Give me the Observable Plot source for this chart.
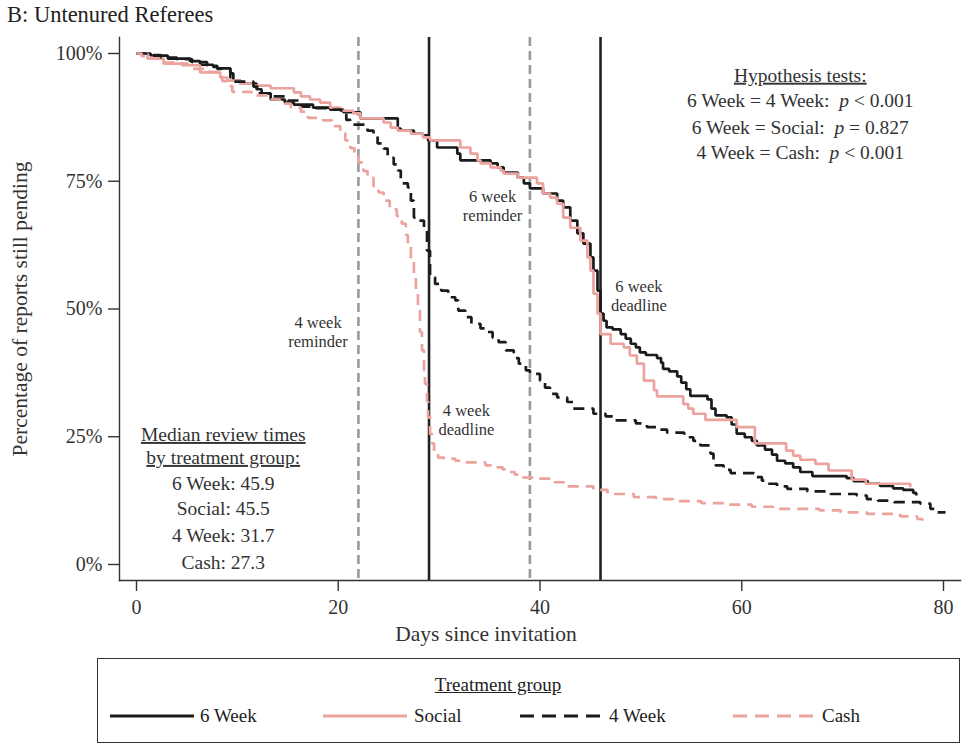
<!DOCTYPE html>
<html>
<head>
<meta charset="utf-8">
<script src="https://cdn.jsdelivr.net/npm/d3@7"></script>
<script src="https://cdn.jsdelivr.net/npm/@observablehq/plot@0.6"></script>
<style>
  body { margin: 0; background: #fff; }
  #root { position: relative; width: 963px; height: 744px; font-family: "Liberation Serif", serif; color: #333; overflow: hidden; }
  #chart { position: absolute; left: 0; top: 0; }
  #title { position: absolute; left: 7px; top: 4px; font-size: 22.5px; line-height: 22px; color: #222; }
  #legend { position: absolute; left: 97px; top: 658px; width: 863px; height: 85px; box-sizing: border-box; border: 1.5px solid #333; }
  #legend .lab { position: absolute; font-size: 19px; line-height: 20px; color: #222; white-space: nowrap; }
  #legend svg { position: absolute; }
</style>
</head>
<body>
<div id="root">
  <div id="chart"></div>
  <div id="title">B: Untenured Referees</div>
  <div id="legend"></div>
</div>
<script>
// ---------------- data ----------------
const groups = ["6 Week", "Social", "4 Week", "Cash"];

// [day, share of reports still pending (%)] — Kaplan-Meier style steps
const sixWeek = [
  [0,100],[1.4,99.6],[3.1,99.0],[5.3,98.5],[6.3,97.8],[7.6,97.4],[8.0,97.1],[9.3,96.1],[9.6,94.7],[10.3,94.1],
  [11.9,93.0],[12.4,92.2],[13.3,91.0],[14.7,90.4],[15.6,90.0],[17.5,89.4],[19.2,89.0],[20.5,88.5],[22.2,87.3],
  [25.9,85.3],[26.2,84.9],[27.5,84.3],[28.4,84.0],[28.9,83.0],[29.8,81.6],[31.8,80.4],[32.1,79.1],[35.1,78.5],
  [35.8,77.7],[36.4,76.7],[37.8,75.7],[38.4,74.6],[39.0,73.6],[40.3,72.6],[41.7,71.2],[42.3,69.9],[43.0,67.3],
  [43.7,64.8],[44.3,62.8],[45.0,60.1],[45.3,57.5],[45.7,53.6],[46.0,49.1],[46.3,47.7],[46.6,46.4],[47.2,46.0],
  [48.0,45.1],[48.5,44.2],[49.0,43.2],[49.5,42.5],[49.9,41.5],[50.5,41.0],[51.6,40.4],[52.0,39.5],[52.2,38.3],
  [52.8,37.8],[53.6,36.8],[54.0,35.6],[54.5,34.3],[54.9,33.0],[56.6,32.3],[57.0,30.5],[57.4,29.2],[58.5,28.8],
  [59.0,27.4],[59.5,25.6],[60.3,24.9],[61.0,24.2],[61.5,23.3],[62.3,22.5],[63.0,21.5],[63.5,20.3],[64.3,19.8],
  [65.1,19.0],[65.8,18.1],[67.0,17.3],[70.4,16.9],[71.1,16.3],[72.5,15.8],[73.7,15.4],[75.0,14.9],[76.0,14.6],
  [77.0,14.0],[77.3,13.5]
];
const social = [
  [0,100],[1.1,99.0],[2.7,98.0],[5.1,97.7],[6.3,96.3],[8.3,95.3],[9.0,94.7],[10.3,94.1],[11.6,93.7],[13.3,93.2],
  [15.6,92.4],[16.3,91.6],[17.2,91.0],[18.2,90.4],[19.2,89.4],[20.2,88.8],[21.5,88.3],[22.2,87.3],[24.5,86.5],
  [25.2,85.5],[25.9,84.9],[27.2,84.3],[28.4,83.6],[29.1,83.0],[32.1,81.6],[33.1,80.4],[33.8,79.1],[34.1,78.5],
  [35.1,77.7],[36.1,77.1],[36.4,76.5],[37.8,75.7],[39.7,74.6],[40.3,72.6],[41.0,71.8],[41.7,70.6],[42.3,67.9],
  [43.0,65.9],[44.0,63.4],[44.7,60.1],[45.0,57.5],[45.3,53.0],[45.7,49.1],[46.0,45.1],[47.0,43.2],[48.3,42.5],
  [48.9,40.9],[49.6,39.3],[50.3,36.0],[51.3,34.1],[51.6,32.9],[54.2,31.4],[54.7,30.5],[55.2,29.5],[56.4,28.3],
  [59.5,26.9],[61.3,23.7],[64.4,22.3],[65.1,21.3],[65.8,20.5],[67.3,19.7],[68.6,18.4],[70.9,16.6],[72.3,15.8],
  [76.7,15.1]
];
const fourWeek = [
  [0,100],[1.5,99.7],[2.4,99.2],[4.0,98.9],[5.5,98.3],[7.0,97.6],[8.0,97.0],[9.3,95.3],[9.6,94.5],[11.6,93.5],
  [12.0,92.2],[13.5,91.6],[15.0,90.8],[16.4,89.6],[17.5,89.3],[19.5,89.0],[20.3,88.3],[20.8,87.0],[21.2,86.1],
  [22.9,84.9],[23.5,84.3],[23.9,82.4],[24.5,81.4],[24.9,79.6],[25.5,78.3],[25.9,77.1],[26.2,74.6],[26.9,73.8],
  [27.2,71.2],[27.5,67.9],[27.9,67.3],[28.5,65.4],[28.8,61.4],[29.1,56.2],[29.6,54.9],[30.2,53.6],[30.9,52.3],
  [31.6,51.7],[31.9,49.7],[32.6,48.4],[33.2,47.1],[34.1,46.2],[34.6,45.5],[35.3,44.4],[35.9,43.5],[36.6,41.9],
  [37.4,40.4],[37.9,39.3],[38.6,38.0],[39.0,37.3],[40.0,36.0],[40.5,34.6],[41.0,33.4],[41.7,32.7],[42.7,31.8],
  [43.3,30.5],[45.3,29.5],[46.5,29.0],[47.3,28.2],[49.5,27.6],[50.6,26.9],[51.6,26.4],[52.6,25.8],[54.3,24.9],
  [55.2,24.2],[55.9,23.3],[56.9,21.7],[57.2,20.5],[57.4,19.4],[58.2,18.5],[58.9,17.9],[61.2,17.1],[62.0,16.4],
  [62.5,15.8],[63.5,15.3],[64.5,14.8],[66.5,14.3],[68.8,13.8],[71.4,13.5],[72.4,12.8],[73.5,12.5],[75.1,12.2],
  [77.7,11.9],[78.7,10.9],[79.4,10.2],[80.2,10.2]
];
const cash = [
  [0,100],[0.5,99.5],[1.5,99.0],[2.7,98.2],[4.5,97.7],[5.3,97.0],[6.8,96.4],[8.0,95.8],[8.5,94.6],[9.0,93.6],
  [9.5,92.5],[11.4,91.8],[13.0,91.0],[14.2,90.2],[15.3,89.4],[16.3,88.6],[17.0,87.4],[18.5,86.9],[19.4,85.8],
  [20.2,84.4],[20.7,83.0],[21.2,81.5],[21.6,80.0],[22.0,78.7],[22.5,77.0],[22.9,75.7],[23.5,74.0],[24.0,72.8],
  [24.5,71.2],[25.1,69.5],[25.8,68.2],[26.3,66.7],[26.7,64.5],[26.9,62.8],[27.2,60.0],[27.5,56.2],[27.7,53.0],
  [27.9,49.7],[28.1,45.5],[28.3,41.9],[28.5,38.0],[28.6,35.4],[28.8,32.0],[28.9,28.8],[29.1,25.5],[29.3,23.7],
  [29.5,21.7],[29.9,20.9],[30.5,20.7],[31.6,20.3],[32.4,20.0],[34.6,19.4],[35.8,19.0],[36.3,18.6],[37.0,18.1],
  [37.5,17.6],[38.2,17.0],[39.8,16.8],[41.3,16.1],[42.7,15.3],[45.3,14.6],[46.7,13.8],[49.3,13.2],[51.5,12.8],
  [53.2,12.4],[56.0,12.0],[58.6,11.7],[61.0,11.3],[63.1,10.9],[67.7,10.6],[69.8,10.2],[72.4,9.9],[75.7,9.4],
  [77.4,8.9],[77.9,8.3]
];

const reminderDays = [22, 39];
const deadlineDays = [29, 46];
const xTicks = [0, 20, 40, 60, 80];
const yTicks = [0, 25, 50, 75, 100];
const medianDays = [45.9, 45.5, 31.7, 27.3];
const hypothesisTests = [
  ["6 Week", "4 Week", "<", "0.001"],
  ["6 Week", "Social", "=", "0.827"],
  ["4 Week", "Cash", "<", "0.001"]
];
const eventLabels = ["6 week\nreminder", "4 week\nreminder", "4 week\ndeadline", "6 week\ndeadline"];

// ---------------- styles / layout ----------------
const BLACK = "#1b1b1b", PINK = "#eca39e";
const styleOf = {
  "6 Week": {stroke: BLACK, dash: null},
  "Social": {stroke: PINK, dash: null},
  "4 Week": {stroke: BLACK, dash: "11,7"},
  "Cash":   {stroke: PINK, dash: "11,7"}
};
const seriesOf = {"6 Week": sixWeek, "Social": social, "4 Week": fourWeek, "Cash": cash};
const drawOrder = ["6 Week", "Social", "4 Week", "Cash"];
const eventPos = [[35.3, 70.2], [18.0, 45.6], [32.7, 28.3], [49.8, 52.7]];
const hypX = 65.8, hypY = [95.7, 90.8, 85.5, 80.6];
const medX = 8.6, medY = [25.4, 20.9, 15.9, 10.9, 5.6, 0.3];

const hypLines = ["Hypothesis tests:"].concat(
  hypothesisTests.map(([a, b, op, p]) => `${a} = ${b}:  p ${op} ${p}`)
);
const medLines = ["Median review times", "by treatment group:"].concat(
  groups.map((g, i) => `${g}: ${medianDays[i]}`)
);
const underlined = ["Hypothesis tests:", "Median review times", "by treatment group:"];

const chart = Plot.plot({
  width: 963,
  height: 650,
  marginLeft: 119,
  marginRight: 3,
  marginTop: 37,
  marginBottom: 70,
  x: {domain: [0, 80], insetLeft: 17, insetRight: 17},
  y: {domain: [0, 100], insetTop: 16, insetBottom: 16},
  style: {fontFamily: "Liberation Serif, serif", fontSize: "20px", color: "#333", background: "transparent"},
  marks: [
    Plot.ruleX(reminderDays, {stroke: "#9a9a9a", strokeWidth: 2.6, strokeDasharray: "9,5"}),
    Plot.ruleX(deadlineDays, {stroke: "#222", strokeWidth: 2.6}),
    ...drawOrder.map(name => Plot.line(seriesOf[name], {
      x: d => d[0], y: d => d[1], curve: "step-after",
      stroke: styleOf[name].stroke, strokeWidth: 2.7,
      strokeDasharray: styleOf[name].dash, strokeLinecap: "butt", strokeLinejoin: "miter"
    })),
    Plot.frame({anchor: "left", stroke: "#333", strokeWidth: 1.4}),
    Plot.frame({anchor: "bottom", stroke: "#333", strokeWidth: 1.4}),
    Plot.axisX({ticks: xTicks, tickSize: 11, tickPadding: 8, label: null, fill: "#333", stroke: "#333", strokeWidth: 1.4}),
    Plot.axisY({ticks: yTicks, tickSize: 11, tickPadding: 6, tickFormat: d => d + "%", label: null, fill: "#333", stroke: "#333", strokeWidth: 1.4}),
    Plot.text(["Percentage of reports still pending"], {frameAnchor: "left", dx: -99, rotate: -90, textAnchor: "middle", lineAnchor: "middle", fontSize: 21.5, fill: "#333"}),
    Plot.text(["Days since invitation"], {frameAnchor: "bottom", dx: -54, dy: 54, textAnchor: "middle", lineAnchor: "middle", fontSize: 21.5, fill: "#333"}),
    Plot.text(eventLabels, {x: (d, i) => eventPos[i][0], y: (d, i) => eventPos[i][1], text: d => d, fontSize: 16.5, lineHeight: 1.15, fill: "#333"}),
    Plot.text(hypLines, {x: () => hypX, y: (d, i) => hypY[i], text: d => d, fontSize: 19.5, fill: "#333"}),
    Plot.text(medLines, {x: () => medX, y: (d, i) => medY[i], text: d => d, fontSize: 19.5, fill: "#333"})
  ]
});

// underline headings, italic p
d3.select(chart).selectAll("text").each(function () {
  const t = this.textContent;
  if (underlined.includes(t)) this.setAttribute("text-decoration", "underline");
  const m = t.match(/^(.*:)\s+p\s([<=])\s(.*)$/);
  if (m) {
    const el = d3.select(this);
    el.text(null).style("white-space", "pre");
    el.append("tspan").text(m[1] + "  ");
    el.append("tspan").attr("font-style", "italic").text("p");
    el.append("tspan").text(" " + m[2] + " " + m[3]);
  }
});
document.getElementById("chart").appendChild(chart);

// ---------------- legend ----------------
const legend = document.getElementById("legend");
const heading = document.createElement("div");
heading.className = "lab";
heading.textContent = "Treatment group";
heading.style.textDecoration = "underline";
heading.style.left = "400px";
heading.style.top = "16px";
heading.style.transform = "translateX(-50%)";
legend.appendChild(heading);
const swatchX = [12, 225, 422, 635];
const labelX = [102, 316, 511, 724];
groups.forEach((g, i) => {
  const ns = "http://www.w3.org/2000/svg";
  const s = document.createElementNS(ns, "svg");
  s.setAttribute("width", 84); s.setAttribute("height", 6);
  s.style.left = swatchX[i] + "px"; s.style.top = "54px";
  const l = document.createElementNS(ns, "line");
  l.setAttribute("x1", 0); l.setAttribute("x2", 84); l.setAttribute("y1", 3); l.setAttribute("y2", 3);
  l.setAttribute("stroke", styleOf[g].stroke); l.setAttribute("stroke-width", 3);
  if (styleOf[g].dash) l.setAttribute("stroke-dasharray", "14,8");
  s.appendChild(l);
  legend.appendChild(s);
  const lab = document.createElement("div");
  lab.className = "lab";
  lab.textContent = g;
  lab.style.left = labelX[i] + "px";
  lab.style.top = "47px";
  legend.appendChild(lab);
});
</script>
</body>
</html>
